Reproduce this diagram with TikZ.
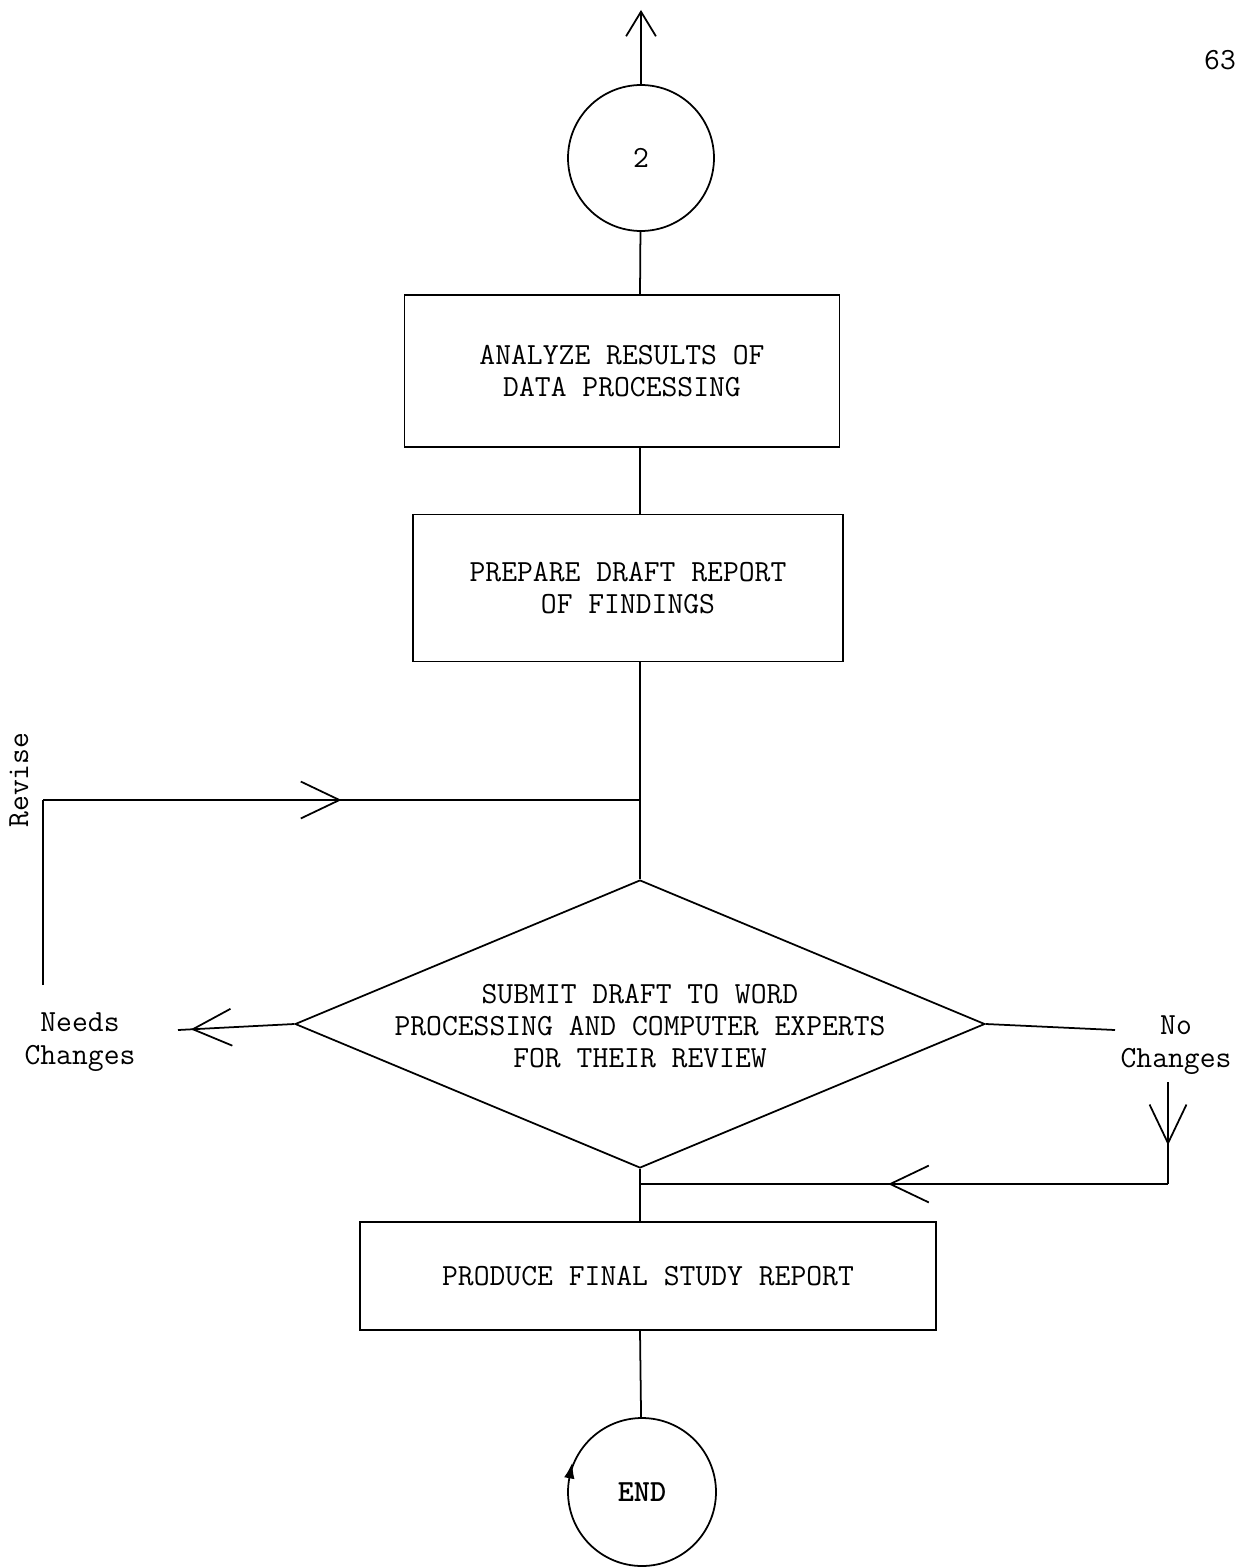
\documentclass[tikz,border=0pt]{standalone}
\usepackage{fontspec}
\usetikzlibrary{shapes.geometric,arrows.meta,decorations.markings}
\begin{document}
\begin{tikzpicture}[x=0.02cm,y=-0.02cm, line width=1pt,
    every node/.style={font=\ttfamily\fontsize{17.5}{18.4}\selectfont, align=center},
    box/.style={draw, rectangle},
    term/.style={draw, circle, minimum size=#1},
    >={Straight Barb[length=22pt,width=21pt]},
    arrowat/.style={postaction={decorate}, decoration={markings, mark=at position #1 with {\arrow{>}}}}]
    \useasboundingbox (0,0) rectangle (1241,1568);
    \node[term=2.92cm] (two) at (641,158) {2};
    \node[box, minimum width=8.7cm, minimum height=3.04cm] (analyze) at (622,371) {ANALYZE RESULTS OF\\DATA PROCESSING};
    \node[box, minimum width=8.6cm, minimum height=2.94cm] (draft) at (628,588) {PREPARE DRAFT REPORT\\OF FINDINGS};
    \node[diamond, draw, aspect=2.4, minimum width=13.8cm, minimum height=5.76cm, inner sep=0pt] (review) at (640,1024) {};
    \node (reviewtext) at (640,1026) {SUBMIT DRAFT TO WORD\\PROCESSING AND COMPUTER EXPERTS\\FOR THEIR REVIEW};
    \node[box, minimum width=11.52cm, minimum height=2.16cm] (final) at (648,1276) {PRODUCE FINAL STUDY REPORT};
    \node[term=2.96cm, font=\ttfamily\bfseries\fontsize{17.5}{18.4}\selectfont,
        postaction={decorate, decoration={markings, mark=at position 0.47 with {\arrow{Latex[length=9pt,width=6pt,reversed]}}}}] (done) at (642,1492) {END};
    \node (needs) at (80,1042) {Needs\\Changes};
    \node (nochg) at (1176,1045) {No\\Changes};
    \node[rotate=90] (revise) at (19,780) {Revise};
    \node (page) at (1220,60) {63};
    \coordinate (spine) at (640,0);
    \coordinate (up) at (641,10);
    \coordinate (rv) at (43,985);
    \coordinate (corner) at (43,800);
    \coordinate (join) at (spine |- corner);
    \coordinate (nc) at (178,1030);
    \coordinate (ncr) at (1115,1030);
    \coordinate (nd) at (1168,1082);
    \coordinate (turn) at (1168,1184);
    \coordinate (merge) at (spine |- turn);
    \draw[-{Straight Barb[length=14pt,width=17pt]}] (two) -- (up);
    \draw (two) -- (spine |- analyze.north);
    \draw (spine |- analyze.south) -- (spine |- draft.north);
    \draw (spine |- draft.south) -- (review.north);
    \draw (rv) -- (corner);
    \draw[arrowat=0.5] (corner) -- (join);
    \draw[arrowat=0.89] (review.west) -- (nc);
    \draw (review.east) -- (ncr);
    \draw[arrowat=0.62] (nd) -- (turn);
    \draw[arrowat=0.53] (turn) -- (merge);
    \draw (review.south) -- (spine |- final.north);
    \draw (spine |- final.south) -- (done);
\end{tikzpicture}
\end{document}
